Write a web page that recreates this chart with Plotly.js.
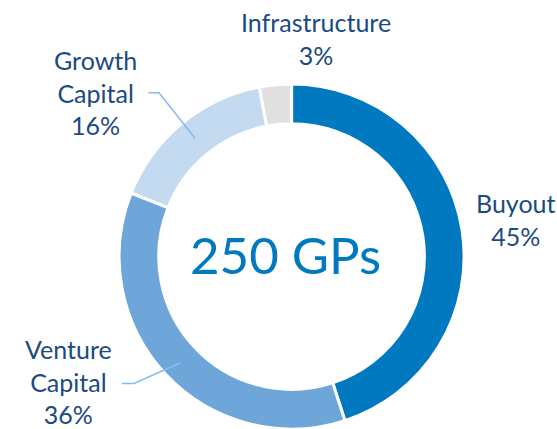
<!DOCTYPE html>
<html>
<head>
<meta charset="utf-8">
<script src="https://cdn.plot.ly/plotly-3.0.1.min.js"></script>
<style>
html, body { margin: 0; padding: 0; overflow: hidden; background: #fff; }
#chart { width: 557px; height: 429px; }
</style>
</head>
<body>
<div id="chart"></div>
<script>
// Data
const categories = ["Buyout", "Venture Capital", "Growth Capital", "Infrastructure"];
const shares = [45, 36, 16, 3];
const sliceColors = ["#0079c1", "#6fa6da", "#c3daf0", "#e0e0e0"];
const centerLabel = "250 GPs";

// label text for each slice (name lines + percent)
const labelLines = [["Buyout"], ["Venture", "Capital"], ["Growth", "Capital"], ["Infrastructure"]];

const W = 557, H = 429;
const px = (x) => x / W;
const py = (y) => 1 - y / H;

const textColor = "#1b4a83";
const fontFam = "Lato, 'Open Sans', sans-serif";

// label layout positions (pixels) for each slice
const labelPos = [
  { x: 515, y: 219 },   // Buyout
  { x: 68, y: 381 },    // Venture Capital
  { x: 95, y: 92 },     // Growth Capital
  { x: 316, y: 38 }     // Infrastructure
];

const annotations = categories.map((c, i) => ({
  xref: "paper", yref: "paper",
  x: px(labelPos[i].x), y: py(labelPos[i].y),
  xanchor: "center", yanchor: "middle",
  text: labelLines[i].concat([shares[i] + "%"]).join("<br>"),
  showarrow: false,
  font: { family: fontFam, size: 25, color: textColor },
  align: "center"
}));

annotations.push({
  xref: "paper", yref: "paper",
  x: px(285), y: py(254),
  xanchor: "center", yanchor: "middle",
  text: centerLabel,
  showarrow: false,
  font: { family: fontFam, size: 51, color: "#0079c1" }
});

// leader lines (pixel paths)
function leader(points) {
  return {
    type: "path", xref: "paper", yref: "paper",
    path: points.map((p, i) => (i === 0 ? "M" : "L") + px(p[0]) + "," + py(p[1])).join(" "),
    line: { color: "#7fbdf2", width: 1.5 }
  };
}
const shapes = [
  leader([[148.5, 92.7], [159, 92.7], [195, 138.3]]),
  leader([[122, 383.5], [134, 383.5], [180.5, 362.8]])
];

const trace = {
  type: "pie",
  labels: categories,
  values: shares,
  sort: false,
  direction: "clockwise",
  rotation: 0,
  hole: 0.77,
  textinfo: "none",
  hoverinfo: "skip",
  marker: { colors: sliceColors, line: { color: "#ffffff", width: 3 } },
  domain: { x: [(291.6 - 172.5) / W, (291.6 + 172.5) / W], y: [0, 345 / H] },
  showlegend: false
};

Plotly.newPlot("chart", [trace], {
  width: W, height: H,
  margin: { l: 0, r: 0, t: 0, b: 0 },
  paper_bgcolor: "#ffffff",
  showlegend: false,
  annotations: annotations,
  shapes: shapes
}, { staticPlot: true, displayModeBar: false });
</script>
</body>
</html>
